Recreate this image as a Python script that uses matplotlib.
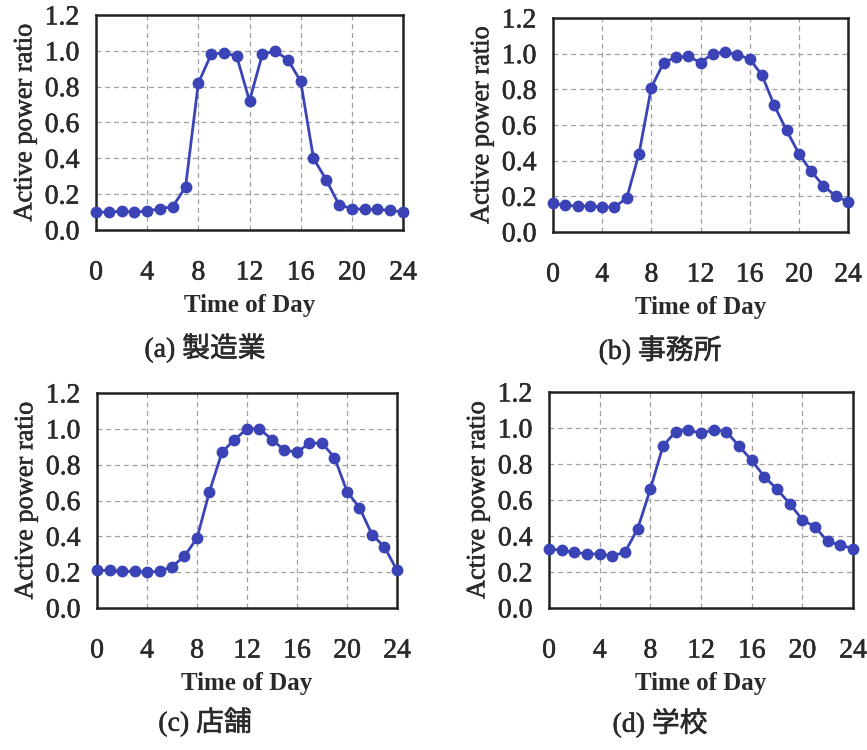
import matplotlib
matplotlib.use("Agg")
import matplotlib.pyplot as plt
import matplotlib.patheffects as pe

hours = list(range(25))

manufacturing = [0.10, 0.10, 0.105, 0.10, 0.105, 0.12, 0.13, 0.24, 0.82, 0.98, 0.99, 0.97, 0.72,
                 0.98, 1.00, 0.95, 0.83, 0.40, 0.28, 0.14, 0.12, 0.115, 0.115, 0.11, 0.10]
office = [0.16, 0.15, 0.145, 0.145, 0.14, 0.14, 0.19, 0.44, 0.81, 0.95, 0.98, 0.985, 0.95,
          1.00, 1.01, 0.995, 0.97, 0.88, 0.71, 0.57, 0.44, 0.34, 0.26, 0.20, 0.17]
store = [0.21, 0.21, 0.205, 0.205, 0.20, 0.205, 0.23, 0.29, 0.39, 0.65, 0.87, 0.94, 1.00,
         1.00, 0.94, 0.88, 0.87, 0.92, 0.92, 0.84, 0.65, 0.56, 0.41, 0.34, 0.21]
school = [0.33, 0.32, 0.31, 0.30, 0.30, 0.29, 0.31, 0.44, 0.66, 0.90, 0.98, 0.99, 0.97,
          0.99, 0.98, 0.90, 0.82, 0.73, 0.66, 0.58, 0.49, 0.45, 0.37, 0.35, 0.33]

series = [manufacturing, office, store, school]
captions = ["(a) 製造業", "(b) 事務所", "(c) 店舗", "(d) 学校"]
xticks = [0, 4, 8, 12, 16, 20, 24]
yticks = [0.0, 0.2, 0.4, 0.6, 0.8, 1.0, 1.2]
xlabel = "Time of Day"
ylabel = "Active power ratio"

W, H = 867, 750
fig = plt.figure(figsize=(W / 100, H / 100), dpi=100)

# axes boxes in pixels: left, top, right, bottom
boxes = [(96, 15, 403, 230), (553, 18, 848, 232), (97, 393, 397, 608), (549, 392, 853, 608)]
cap_pos = [(205, 348), (660, 350), (205, 722), (660, 723)]

serif = ["Liberation Serif", "DejaVu Serif"]
cjk = ["Liberation Serif", "Noto Sans CJK JP", "DejaVu Sans"]
color = "#3a44b6"
txt = "#2a2a2a"
thick = [pe.withStroke(linewidth=0.4, foreground=txt)]

for vals, cap, (l, t, r, b), (cx, cy) in zip(series, captions, boxes, cap_pos):
    ax = fig.add_axes([l / W, 1 - b / H, (r - l) / W, (b - t) / H])
    ax.plot(hours, vals, "-o", color=color, lw=2.0, ms=7.5, zorder=3, clip_on=False)
    ax.set_xlim(0, 24)
    ax.set_ylim(0, 1.2)
    ax.set_xticks(xticks)
    ax.set_yticks(yticks)
    ax.set_yticklabels([f"{v:.1f}" for v in yticks])
    ax.grid(True, ls=(0, (4, 3)), color="#a0a0a0", lw=0.9)
    ax.tick_params(length=0, labelsize=20, pad=12, colors=txt)
    ax.tick_params(axis="x", pad=22)
    for lab in ax.get_xticklabels() + ax.get_yticklabels():
        lab.set_family(serif)
        lab.set_path_effects(thick)
    for s in ax.spines.values():
        s.set_linewidth(1.8)
        s.set_color("#222222")
    ax.set_xlabel(xlabel, fontsize=18, family=serif, fontweight="bold", labelpad=6, color=txt)
    ax.set_ylabel(ylabel, fontsize=19, family=serif, labelpad=6, color=txt,
                  path_effects=thick)
    fig.text(cx / W, 1 - cy / H, cap, ha="center", va="center", fontsize=20, family=cjk,
             color=txt, path_effects=thick)

fig.savefig("out.png", dpi=100)
